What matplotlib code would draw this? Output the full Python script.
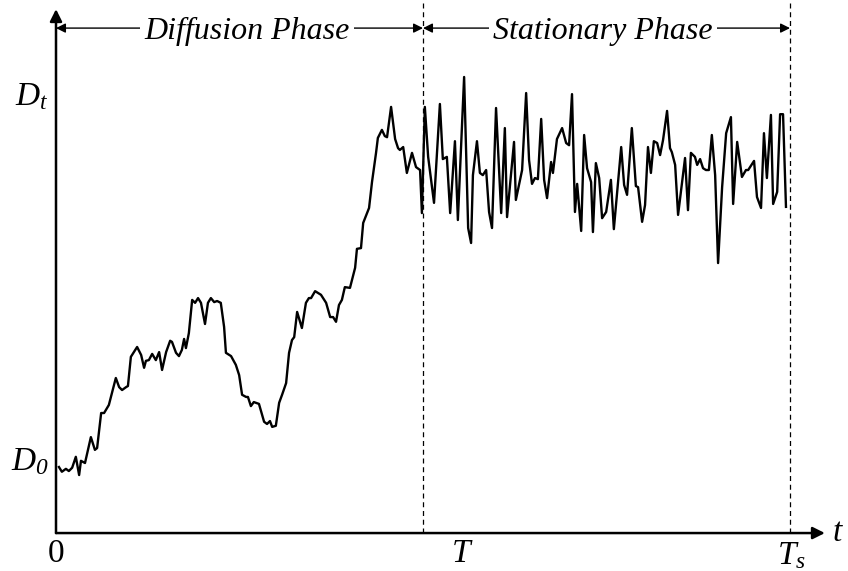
import matplotlib.pyplot as plt

# math labels are all italic, digits included
plt.rcParams["mathtext.fontset"] = "custom"
plt.rcParams["mathtext.rm"] = "Liberation Serif:italic"
plt.rcParams["mathtext.it"] = "Liberation Serif:italic"
plt.rcParams["font.family"] = "Liberation Serif"

# time instants (T = 100 ends diffusion, Ts = 200 ends stationary)
T_END = 100
TS_END = 200

# diffusion phase
t_diff = [0.8, 1.6, 2.7, 3.5, 4.4, 5.4, 6.3, 6.8, 7.9, 9.5, 10.6, 11.2, 12.3, 13.1, 14.4,
          16.3, 17.2, 18.0, 19.1, 19.6, 20.4, 22.1, 23.2, 24.0, 24.5, 25.3, 26.2, 27.2,
          28.1, 28.9, 30.0, 31.1, 31.6, 32.7, 33.5, 34.3, 34.9, 35.4, 36.2, 37.1, 37.9,
          38.7, 39.5, 40.6, 41.4, 42.2, 43.1, 43.9, 44.9, 45.8, 46.3, 47.7, 49.0, 49.9,
          50.7, 51.8, 52.3, 53.1, 53.9, 55.3, 56.7, 57.5, 58.3, 58.9, 59.9, 60.8, 61.6,
          62.7, 63.5, 64.3, 64.9, 65.7, 67.0, 68.1, 68.9, 69.5, 70.6, 72.2, 73.6, 74.7,
          75.5, 76.3, 77.1, 77.9, 78.7, 80.1, 81.5, 82.0, 83.1, 83.7, 85.3, 86.1, 87.2,
          87.7, 88.8, 89.6, 90.2, 91.3, 92.4, 93.2, 93.7, 94.6, 95.6, 97.0, 98.1, 99.2,
          99.7]
d_diff = [-1.4, -2.7, -1.9, -2.5, -1.6, 1.4, -3.6, 0.3, -0.3, 6.8, 3.3, 3.8, 13.4, 13.4,
          15.6, 23.0, 20.5, 19.7, 20.5, 20.8, 28.8, 31.5, 29.3, 25.8, 27.7, 27.9, 29.6,
          27.9, 30.1, 25.2, 30.1, 33.2, 32.9, 29.9, 29.0, 30.7, 33.7, 31.2, 35.3, 44.4,
          43.6, 44.9, 43.6, 37.8, 43.6, 44.9, 43.8, 44.1, 43.6, 37.0, 29.9, 29.0, 26.6,
          23.8, 18.4, 17.8, 17.8, 15.3, 16.4, 15.9, 11.0, 10.4, 11.2, 9.6, 9.9, 16.2,
          18.4, 21.6, 29.9, 33.4, 34.2, 41.1, 36.7, 43.6, 44.9, 44.9, 46.8, 45.8, 43.6,
          39.7, 39.7, 38.4, 43.0, 44.4, 47.9, 47.7, 53.2, 58.4, 58.6, 65.5, 69.6, 76.7,
          84.7, 88.8, 91.0, 89.3, 89.0, 97.3, 88.5, 86.0, 85.5, 86.3, 79.2, 84.7, 80.8,
          80.0, 68.2]

# stationary phase
t_stat = [100.5, 101.4, 103.0, 104.6, 105.4, 106.5, 107.4, 108.7, 109.5, 111.2, 112.3,
          113.1, 113.6, 114.7, 115.5, 116.3, 117.2, 118.0, 118.8, 119.9, 121.3, 122.3,
          122.9, 124.8, 125.3, 127.0, 128.1, 128.9, 129.7, 130.5, 131.3, 132.2, 133.0,
          133.8, 134.9, 135.4, 136.5, 137.9, 139.0, 139.8, 140.6, 141.4, 142.0, 143.1,
          143.9, 144.7, 145.8, 146.3, 147.1, 148.0, 148.8, 149.9, 151.2, 152.0, 154.0,
          154.8, 155.6, 156.9, 158.0, 158.6, 159.7, 160.5, 161.3, 162.1, 162.9, 163.8,
          164.6, 165.4, 166.5, 167.3, 167.8, 168.7, 169.5, 171.4, 172.2, 173.0, 174.1,
          174.7, 175.5, 176.3, 177.1, 177.9, 178.7, 179.6, 180.4, 181.5, 182.6, 183.9,
          184.5, 185.6, 186.9, 188.0, 188.6, 190.2, 191.0, 192.1, 192.9, 193.7, 194.8,
          195.4, 196.5, 197.3, 198.1, 198.9]
d_stat = [97.3, 83.6, 71.0, 98.1, 83.0, 83.6, 68.2, 87.9, 66.3, 105.5, 64.1, 60.0, 78.6,
          87.9, 79.2, 78.6, 80.0, 68.5, 64.1, 97.0, 68.2, 91.5, 67.1, 87.7, 71.8, 80.0,
          101.1, 82.7, 76.2, 77.8, 77.5, 94.0, 77.3, 72.3, 82.2, 79.2, 88.5, 91.5, 87.4,
          86.8, 100.8, 68.5, 76.2, 63.3, 89.6, 80.5, 76.7, 63.0, 81.9, 77.8, 66.8, 68.5,
          77.3, 63.8, 86.3, 75.9, 73.2, 91.5, 75.6, 75.3, 65.8, 70.4, 86.3, 79.2, 87.9,
          87.4, 84.1, 88.2, 96.2, 86.0, 84.9, 81.4, 67.7, 83.3, 69.0, 84.7, 83.6, 81.4,
          83.0, 80.5, 80.0, 80.0, 89.6, 78.6, 54.5, 75.3, 90.1, 94.5, 70.7, 87.7, 78.1,
          80.0, 80.0, 82.5, 72.6, 69.6, 90.1, 77.8, 95.1, 70.7, 74.0, 95.3, 95.3, 69.9]

fig = plt.figure(figsize=(8.48, 5.71), dpi=100)
ax = fig.add_axes([0, 0, 1, 1])
ax.set_xlim(-15.26, 215.8)
ax.set_ylim(-29.9, 126.6)
ax.axis("off")

base = -19.5  # level of the time axis

ax.plot(t_diff + t_stat, d_diff + d_stat, color="black", lw=1.7)

# axes drawn as arrows
axis_arrow = dict(arrowstyle="-|>", color="black", lw=1.8, mutation_scale=18,
                  shrinkA=0, shrinkB=0)
ax.annotate("", xy=(209.5, base), xytext=(0, base), arrowprops=axis_arrow)
ax.annotate("", xy=(0, 124.1), xytext=(0, base), arrowprops=axis_arrow)

# phase boundaries
for tb in (T_END, TS_END):
    ax.plot([tb, tb], [base, 126.6], color="black", lw=0.9, ls=(0, (4, 3)))

# phase spans on top
span_arrow = dict(arrowstyle="<|-|>", color="black", lw=1.0, mutation_scale=14,
                  shrinkA=0, shrinkB=0)
y_span = 118.9
ax.annotate("", xy=(0, y_span), xytext=(T_END, y_span), arrowprops=span_arrow)
ax.annotate("", xy=(T_END, y_span), xytext=(TS_END, y_span), arrowprops=span_arrow)
bbox = dict(facecolor="white", edgecolor="none", pad=3)
ax.text(52.0, y_span - 0.8, "Diffusion Phase", style="italic", fontsize=23,
        ha="center", va="center", bbox=bbox)
ax.text(149.0, y_span - 0.8, "Stationary Phase", style="italic", fontsize=23,
        ha="center", va="center", bbox=bbox)

# labels
lbl = dict(fontsize=24, ha="center", va="center")
ax.text(-6.6, 100, r"$D_t$", **lbl)
ax.text(-7.0, 0, r"$D_0$", **lbl)
ax.text(0, -25.2, "0", **lbl)
ax.text(110.6, -25.2, r"$T$", **lbl)
ax.text(200.5, -25.8, r"$T_s$", **lbl)
ax.text(213.2, -19.5, r"$t$", **lbl)

fig.savefig("out.png", dpi=100)
